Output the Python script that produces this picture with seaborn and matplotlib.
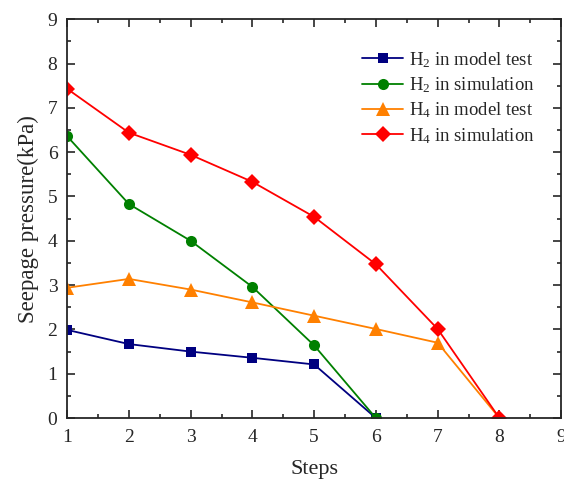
import pandas as pd
import seaborn as sns
import matplotlib
import matplotlib.pyplot as plt
from matplotlib.ticker import MultipleLocator

matplotlib.use("Agg")

# Data
steps_h2 = [1, 2, 3, 4, 5, 6]
steps_h4 = [1, 2, 3, 4, 5, 6, 7, 8]
h2_model = [1.99, 1.67, 1.50, 1.36, 1.21, 0.0]
h2_sim = [6.36, 4.83, 4.00, 2.96, 1.64, 0.0]
h4_model = [2.94, 3.14, 2.90, 2.61, 2.31, 2.01, 1.70, 0.0]
h4_sim = [7.43, 6.44, 5.94, 5.33, 4.54, 3.47, 2.01, 0.0]

labels = ["H$_2$ in model test", "H$_2$ in simulation",
          "H$_4$ in model test", "H$_4$ in simulation"]
colors = ["#000080", "#008000", "#FF8000", "#FF0000"]
markers = ["s", "o", "^", "D"]
msizes = [7, 8, 9.5, 8]

sns.set_style("ticks")
plt.rcParams["font.family"] = ["Liberation Serif", "DejaVu Serif"]
plt.rcParams["mathtext.fontset"] = "custom"
plt.rcParams["mathtext.rm"] = "Liberation Serif"
plt.rcParams["mathtext.it"] = "Liberation Serif"

fig = plt.figure(figsize=(5.64, 4.8), dpi=100)
ax = fig.add_axes([0.119, 0.129, 0.876, 0.831])

series = [(steps_h2, h2_model), (steps_h2, h2_sim), (steps_h4, h4_model), (steps_h4, h4_sim)]
for (xs, ys), lab, c, m, ms in zip(series, labels, colors, markers, msizes):
    d = pd.DataFrame({"Steps": xs, "Pressure": ys})
    sns.lineplot(data=d, x="Steps", y="Pressure", color=c, marker=m,
                 markersize=ms, markeredgewidth=0, linewidth=1.3,
                 label=lab, ax=ax)

ax.set_xlim(1, 9)
ax.set_ylim(0, 9)
ax.xaxis.set_major_locator(MultipleLocator(1))
ax.xaxis.set_minor_locator(MultipleLocator(0.5))
ax.yaxis.set_major_locator(MultipleLocator(1))
ax.yaxis.set_minor_locator(MultipleLocator(0.5))
ax.tick_params(which="both", direction="in", top=True, right=True,
               labeltop=False, labelright=False, width=1.2)
ax.tick_params(which="major", length=6, labelsize=14)
ax.tick_params(axis="x", which="major", pad=8)
ax.tick_params(axis="y", which="major", pad=7)
ax.tick_params(which="minor", length=3)
for s in ax.spines.values():
    s.set_linewidth(1.3)

ax.set_xlabel("Steps", fontsize=16, labelpad=10)
ax.set_ylabel("Seepage pressure(kPa)", fontsize=16.5, labelpad=6)

ax.legend(loc="upper right", bbox_to_anchor=(0.98, 0.965), frameon=False,
          fontsize=13.5, handlelength=2.2, handletextpad=0.3, labelspacing=0.3)

fig.savefig("out.png", dpi=100)
